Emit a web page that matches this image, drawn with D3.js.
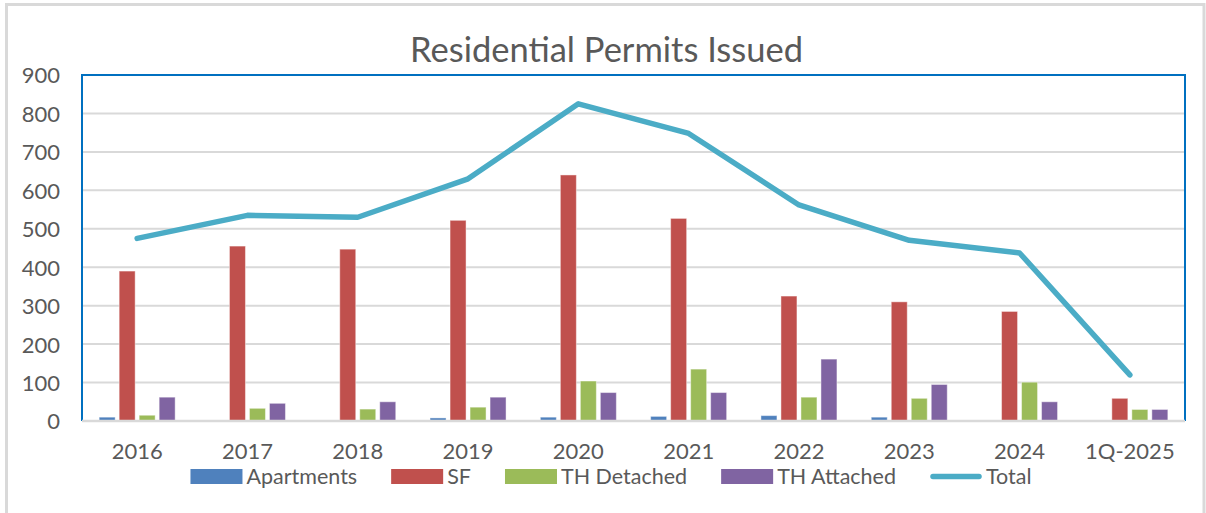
<!DOCTYPE html>
<html>
<head>
<meta charset="utf-8">
<script src="https://cdn.jsdelivr.net/npm/d3@7"></script>
<style>
  html, body { margin: 0; padding: 0; background: #fff; }
  svg { display: block; font-family: Lato, "Open Sans", sans-serif; }
</style>
</head>
<body>
<svg id="chart" width="1206" height="513"></svg>
<script>
// ---- Data ----
const categories = ["2016", "2017", "2018", "2019", "2020", "2021", "2022", "2023", "2024", "1Q-2025"];
const apartments = [10, 2, 0, 8, 10, 12, 14, 10, 0, 0];
const sf         = [390, 455, 447, 522, 640, 527, 325, 310, 285, 59];
const thDetached = [15, 33, 31, 36, 104, 135, 62, 59, 101, 30];
const thAttached = [62, 46, 50, 62, 74, 74, 161, 95, 50, 30];
const total      = [475, 535, 530, 630, 825, 748, 562, 470, 437, 120];
const yTicks     = [0, 100, 200, 300, 400, 500, 600, 700, 800, 900];
const seriesNames = ["Apartments", "SF", "TH Detached", "TH Attached"];
const lineName = "Total";

const barSeries = [
  { name: seriesNames[0], values: apartments, color: "#4F81BD" },
  { name: seriesNames[1], values: sf,         color: "#C0504D" },
  { name: seriesNames[2], values: thDetached, color: "#9BBB59" },
  { name: seriesNames[3], values: thAttached, color: "#8064A2" }
];
const lineColor = "#4BACC6";
const textColor = "#595959";

// ---- Layout ----
const svg = d3.select("#chart");
const plot = { left: 82, right: 1185, top: 75, bottom: 421 };

// outer frame
svg.append("rect")
  .attr("x", 6.5).attr("y", 4.5).attr("width", 1197.5).attr("height", 520)
  .attr("fill", "#fff").attr("stroke", "#d9d9d9").attr("stroke-width", 3);

const x = d3.scaleBand().domain(categories).range([plot.left, plot.right]).paddingInner(0).paddingOuter(0);
const y = d3.scaleLinear().domain([0, 900]).range([plot.bottom, plot.top]);

// gridlines
svg.append("g").selectAll("line").data(yTicks.filter(d => d > 0 && d < 900)).join("line")
  .attr("x1", plot.left).attr("x2", plot.right)
  .attr("y1", d => y(d)).attr("y2", d => y(d))
  .attr("stroke", "#d9d9d9").attr("stroke-width", 2);

// y axis labels
const yAxis = d3.axisLeft(y).tickValues(yTicks).tickSize(0).tickPadding(0);
const yg = svg.append("g").attr("transform", `translate(60,0)`).call(yAxis);
yg.select(".domain").remove();
yg.selectAll("text").attr("fill", textColor).style("font-size", "22px").style("font-family", "Lato").attr("dy", "0.36em");

// bars
const inner = d3.scaleBand().domain(seriesNames).paddingInner(0.2).paddingOuter(0.1);
const groups = svg.append("g");
barSeries.forEach(s => {
  groups.append("g").selectAll("rect").data(categories).join("rect")
    .attr("x", (c) => { inner.range([x(c) + x.bandwidth() / 2 - 40, x(c) + x.bandwidth() / 2 + 40]); return inner(s.name); })
    .attr("width", inner.bandwidth())
    .attr("y", (c, i) => y(s.values[i]))
    .attr("height", (c, i) => y(0) - y(s.values[i]))
    .attr("fill", s.color)
    .attr("stroke", "rgba(255,255,255,0.45)").attr("stroke-width", 1);
});

// plot area border (blue) and bottom axis line
svg.append("path")
  .attr("d", `M${plot.left},${plot.bottom}V${plot.top}H${plot.right}V${plot.bottom}`)
  .attr("fill", "none").attr("stroke", "#0070C0").attr("stroke-width", 2);
svg.append("line")
  .attr("x1", plot.left).attr("x2", plot.right).attr("y1", plot.bottom).attr("y2", plot.bottom)
  .attr("stroke", "#d9d9d9").attr("stroke-width", 2.5);

// total line
const line = d3.line().x((d, i) => x(categories[i]) + x.bandwidth() / 2).y(d => y(d));
svg.append("path").datum(total).attr("d", line)
  .attr("fill", "none").attr("stroke", lineColor).attr("stroke-width", 5.5)
  .attr("stroke-linecap", "round").attr("stroke-linejoin", "round");

// x axis labels
const xAxis = d3.axisBottom(x).tickSize(0).tickPadding(0);
const xg = svg.append("g").attr("transform", `translate(0,${plot.bottom})`).call(xAxis);
xg.select(".domain").remove();
xg.selectAll("text").attr("fill", textColor).style("font-size", "22px").style("font-family", "Lato")
  .attr("y", 38).attr("dy", 0);

// title
svg.append("text").attr("x", 606.5).attr("y", 62).attr("text-anchor", "middle")
  .attr("fill", textColor).style("font-size", "34.5px").text("Residential Permits Issued");

// legend
const legendItems = barSeries.map(s => ({ name: s.name, color: s.color, type: "bar" }))
  .concat([{ name: lineName, color: lineColor, type: "line" }]);
const lg = svg.append("g");
const swW = 52, swGap = 4, itemGap = 34, legY = 476.5;
let widths = legendItems.map(it => {
  const t = lg.append("text").style("font-size", "21.5px").text(it.name);
  const w = t.node().getComputedTextLength(); t.remove(); return w;
});
const totalW = d3.sum(widths) + legendItems.length * (swW + swGap) + (legendItems.length - 1) * itemGap;
let cx = 611 - totalW / 2;
legendItems.forEach((it, i) => {
  if (it.type === "bar") {
    lg.append("rect").attr("x", cx).attr("y", legY - 7.5).attr("width", swW).attr("height", 15).attr("fill", it.color);
  } else {
    lg.append("line").attr("x1", cx + 3).attr("x2", cx + swW - 3).attr("y1", legY).attr("y2", legY)
      .attr("stroke", it.color).attr("stroke-width", 5.5).attr("stroke-linecap", "round");
  }
  lg.append("text").attr("x", cx + swW + swGap).attr("y", legY + 7.5)
    .attr("fill", textColor).style("font-size", "21.5px").text(it.name);
  cx += swW + swGap + widths[i] + itemGap;
});
</script>
</body>
</html>
